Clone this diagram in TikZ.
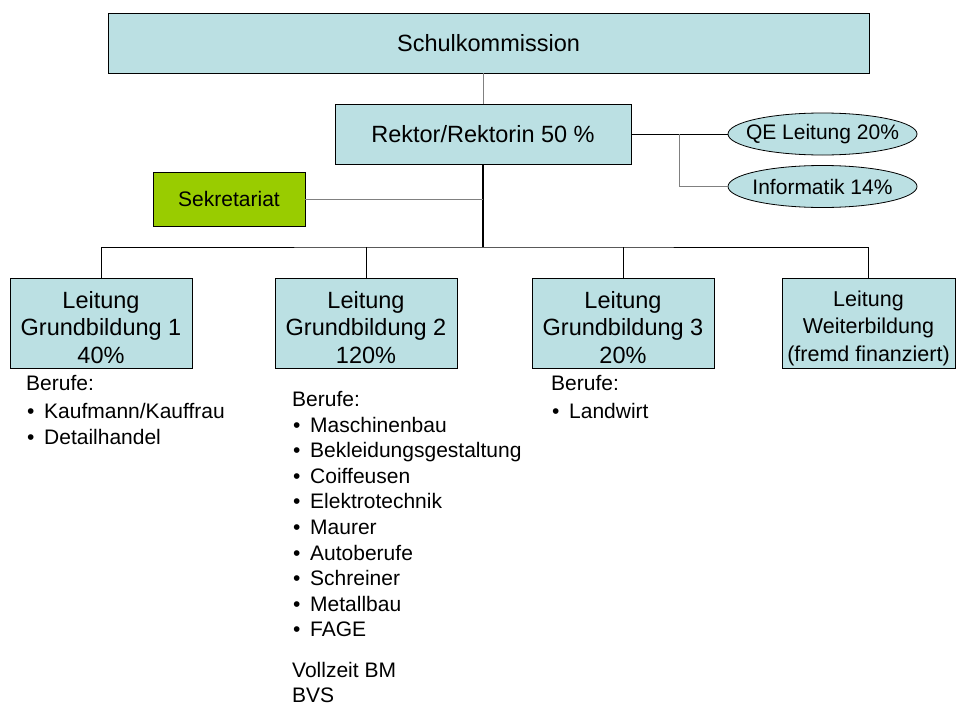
\documentclass[tikz,border=0pt]{standalone}
\usepackage{fontspec}
\setmainfont{Liberation Sans}
\usetikzlibrary{shapes.geometric}

\definecolor{boxblue}{RGB}{187,224,227}
\definecolor{sekgreen}{RGB}{153,204,0}
\definecolor{linegray}{RGB}{128,128,128}

\tikzset{
  unit/.style={draw=black, fill=boxblue, line width=0.8pt, align=center,
    inner sep=0pt, font=\fontsize{23.5}{27.5}\selectfont},
  gbox/.style={unit, minimum width=182pt, minimum height=90pt},
  oval/.style={ellipse, draw=black, fill=boxblue, line width=0.8pt,
    inner xsep=-30pt, inner ysep=-8pt, minimum width=189pt, minimum height=42pt,
    font=\fontsize{21}{25}\selectfont},
  listtext/.style={anchor=base west, inner sep=0pt,
    font=\fontsize{21}{25}\selectfont},
  thinline/.style={line width=0.8pt}
}

\newcommand{\bul}{\makebox[18pt][l]{\hspace{1pt}\textbullet}}
\newcommand{\toprule}{\rule{0pt}{25pt}}

\begin{document}
\begin{tikzpicture}[x=1pt,y=-1pt]
  \useasboundingbox (0,0) rectangle (957,704);

  \node[unit, minimum width=761pt, minimum height=60pt] (schul) at (488.5,43) {Schulkommission};

  \node[unit, minimum width=296pt, minimum height=60pt] (rektor) at (483,134) {Rektor/Rektorin 50 \%};

  \node[unit, fill=sekgreen, minimum width=152pt, minimum height=54pt,
    font=\fontsize{21}{25}\selectfont] (sek) at (229,199) {Sekretariat};

  \node[oval] (qe)  at (822.5,134)   {QE Leitung 20\%};
  \node[oval] (inf) at (822.5,186.5) {Informatik 14\%};

  \node[gbox] (gb1) at (101,323.5) {\toprule Leitung\\Grundbildung 1\\40\%};
  \node[gbox] (gb2) at (366,323.5) {\toprule Leitung\\Grundbildung 2\\120\%};
  \node[gbox] (gb3) at (623,323.5) {\toprule Leitung\\Grundbildung 3\\20\%};
  \node[gbox, minimum width=173pt, font=\fontsize{21.5}{27.5}\selectfont] (gb4) at (868.5,323.5) {\toprule Leitung\\Weiterbildung\\(fremd finanziert)};

  \coordinate (bus) at (483,247);
  \coordinate (qbr) at (679,134);

  % Lines
  \draw[thinline, linegray] (schul.south -| rektor.north) -- (rektor.north);
  \draw[thinline] (rektor.east) -- (qe.west);
  \draw[thinline, linegray] (qbr) |- (inf.west);
  \draw[line width=2.3pt] (rektor.south) -- (bus);
  \draw[thinline, linegray] (sek.east) -- (sek.east -| bus);
  \draw[thinline] (gb1.north) |- (bus) -| (gb4.north);
  \draw[thinline] (gb2.north) -- (gb2.north |- bus);
  \draw[thinline] (gb3.north) -- (gb3.north |- bus);

  % Berufe
  \node[listtext] (b1) at (26,390) {Berufe:};
  \foreach \t [count=\i] in {Kaufmann/Kauffrau, Detailhandel}
    \node[listtext] (b1-\i) at (26,393+25.5*\i) {\bul\t};

  \node[listtext] (b2) at (292,406.4) {Berufe:};
  \foreach \t [count=\i] in {Maschinenbau, Bekleidungsgestaltung, Coiffeusen,
      Elektrotechnik, Maurer, Autoberufe, Schreiner, Metallbau, FAGE}
    \node[listtext] (b2-\i) at (292,406.4+25.6*\i) {\bul\t};
  \node[listtext] (vbm) at (292,677.5) {Vollzeit BM};
  \node[listtext] (bvs) at (292,702) {BVS};

  \node[listtext] (b3) at (551,390) {Berufe:};
  \node[listtext] (b3-1) at (551,418.5) {\bul Landwirt};

\end{tikzpicture}
\end{document}
